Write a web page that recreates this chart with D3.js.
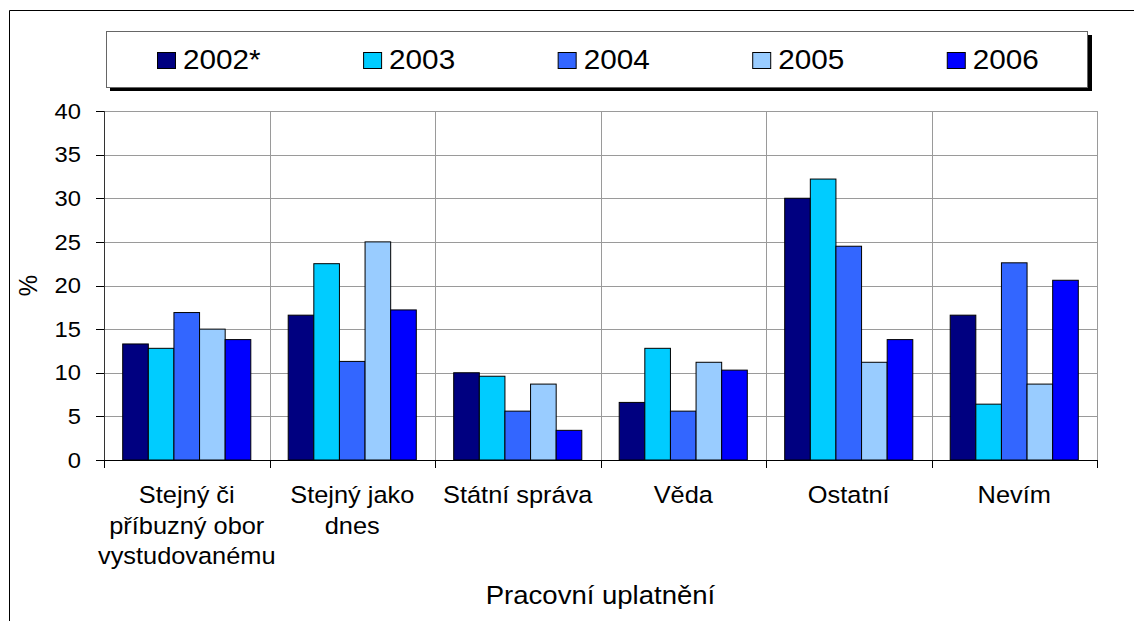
<!DOCTYPE html>
<html><head><meta charset="utf-8">
<script src="https://cdn.jsdelivr.net/npm/d3@7"></script>
<style>html,body{margin:0;padding:0;background:#fff;}svg{display:block;font-family:"Liberation Sans",Arial,sans-serif;}</style>
</head><body>
<svg id="c" width="1134" height="621"></svg>
<script>
const categories = ["Stejný či příbuzný obor vystudovanému","Stejný jako dnes","Státní správa","Věda","Ostatní","Nevím"];
const categoryLines = [["Stejný či","příbuzný obor","vystudovanému"],["Stejný jako","dnes"],["Státní správa"],["Věda"],["Ostatní"],["Nevím"]];
const series = ["2002*","2003","2004","2005","2006"];
const v2002 = [13.3,16.6,10.0,6.6,30.0,16.6];
const v2003 = [12.8,22.5,9.6,12.8,32.2,6.4];
const v2004 = [16.9,11.3,5.6,5.6,24.5,22.6];
const v2005 = [15.0,25.0,8.7,11.2,11.2,8.7];
const v2006 = [13.8,17.2,3.4,10.3,13.8,20.6];
const yTicks = [0,5,10,15,20,25,30,35,40];
const colors = ["#000080","#00CCFF","#3366FF","#99CCFF","#0000FF"];
const yTitle = "%";
const xTitle = "Pracovní uplatnění";

const values = [v2002,v2003,v2004,v2005,v2006];
const SX = 1.08;
const svg = d3.select("#c");

svg.append("path").attr("d","M9.5,621 L9.5,10.5 L1134,10.5").attr("fill","none").attr("stroke","#000").attr("stroke-width",1);

const L=104, R=1097, T=111, B=460;
const x0 = d3.scaleBand().domain(categories).range([L,R]).paddingInner(0).paddingOuter(0);
const x1 = d3.scaleBand().domain(series).range([0,x0.bandwidth()]).paddingInner(0).paddingOuter(0.73);
const y = d3.scaleLinear().domain([0,40]).range([B,T]);

function stext(g, x, yy, txt, size, anchor){
  const gg = g.append("g").attr("transform",`translate(${x},${yy}) scale(${SX},1)`);
  return gg.append("text").attr("x",0).attr("y",0).attr("font-size",size).attr("text-anchor",anchor).attr("fill","#000").text(txt);
}

svg.append("g").selectAll("line").data(yTicks.filter(d=>d>0)).join("line")
  .attr("x1",L).attr("x2",R).attr("y1",d=>Math.round(y(d))+0.5).attr("y2",d=>Math.round(y(d))+0.5)
  .attr("stroke","#9a9a9a").attr("stroke-width",1);
const bounds = categories.map(c=>x0(c)).concat([R]);
svg.append("g").selectAll("line").data(bounds.slice(1)).join("line")
  .attr("x1",d=>Math.round(d)+0.5).attr("x2",d=>Math.round(d)+0.5).attr("y1",T).attr("y2",B)
  .attr("stroke","#9a9a9a").attr("stroke-width",1);

const gb = svg.append("g");
categories.forEach((c,i)=>{
  series.forEach((s,j)=>{
    const v = values[j][i];
    gb.append("rect").attr("x",x0(c)+x1(s)).attr("y",y(v)).attr("width",x1.bandwidth()).attr("height",B-y(v))
      .attr("fill",colors[j]).attr("stroke","#000").attr("stroke-width",1);
  });
});

const ya = svg.append("g");
ya.append("line").attr("x1",L+0.5).attr("x2",L+0.5).attr("y1",T).attr("y2",B+8).attr("stroke","#333");
ya.selectAll("line.t").data(yTicks).join("line").attr("class","t")
  .attr("x1",L-8).attr("x2",L).attr("y1",d=>Math.round(y(d))+0.5).attr("y2",d=>Math.round(y(d))+0.5).attr("stroke","#000");
yTicks.forEach(t=>{
  stext(ya, 81, y(t), String(t), 22, "end").attr("dominant-baseline","central");
});
const xa = svg.append("g");
xa.append("line").attr("x1",L).attr("x2",R+1).attr("y1",B+0.5).attr("y2",B+0.5).attr("stroke","#000");
xa.selectAll("line.t").data(bounds).join("line").attr("class","t")
  .attr("x1",d=>Math.round(d)+0.5).attr("x2",d=>Math.round(d)+0.5).attr("y1",B).attr("y2",B+8).attr("stroke","#000");
categories.forEach((c,i)=>{
  categoryLines[i].forEach((ln,k)=>{
    stext(xa, x0(c)+x0.bandwidth()/2, 503+k*30.5, ln, 23.5, "middle");
  });
});
stext(svg, (L+R)/2, 604, xTitle, 25.5, "middle");
svg.append("g").attr("transform",`translate(37,${(T+B)/2}) scale(${SX},1) rotate(-90)`)
  .append("text").attr("font-size",24).attr("text-anchor","middle").text(yTitle);

const lg = svg.append("g");
lg.append("rect").attr("x",110).attr("y",35).attr("width",982).attr("height",56).attr("fill","#000");
lg.append("rect").attr("x",106.5).attr("y",31.5).attr("width",981).attr("height",56).attr("fill","#fff").attr("stroke","#666");
let lx = 157;
series.forEach((s,j)=>{
  lg.append("rect").attr("x",lx+0.5).attr("y",52.5).attr("width",18).attr("height",16).attr("fill",colors[j]).attr("stroke","#000");
  const t = stext(lg, lx+26, 69, s, 27.5, "start");
  const w = t.node().getComputedTextLength()*SX;
  lx = lx + 26 + w + 102.5;
});
</script>
</body></html>
